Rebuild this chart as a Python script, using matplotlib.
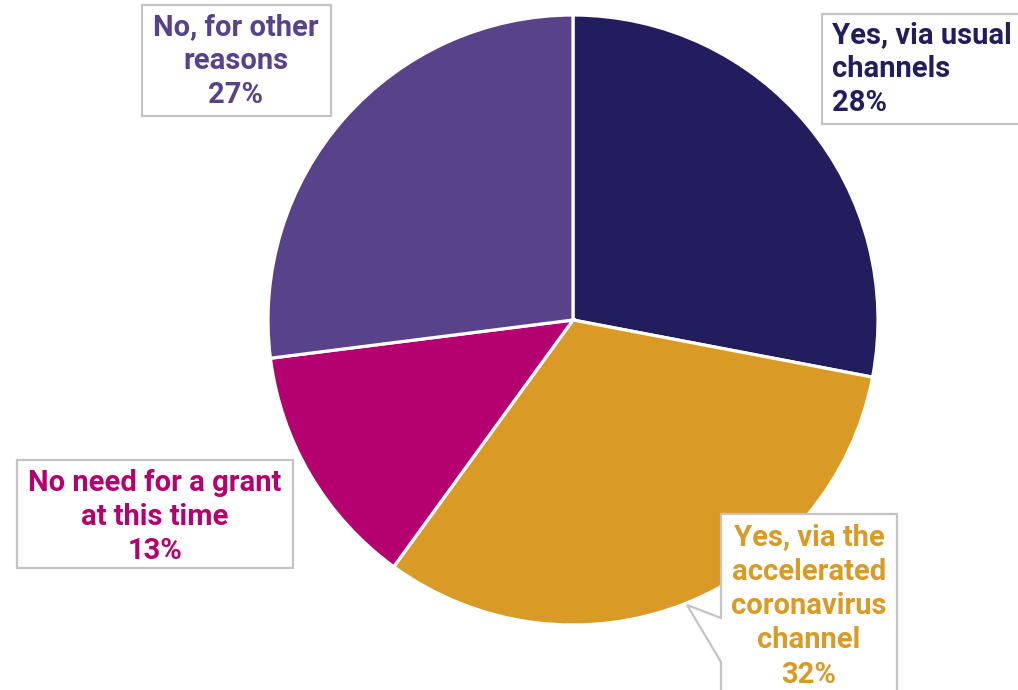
import matplotlib.pyplot as plt
from matplotlib.patches import Polygon
import numpy as np

plt.rcParams['font.family'] = ['Roboto', 'DejaVu Sans']

# data
labels = ['Yes, via usual\nchannels', 'Yes, via the\naccelerated\ncoronavirus\nchannel',
          'No need for a grant\nat this time', 'No, for other\nreasons']
values = [28, 32, 13, 27]
colors = ['#221E5E', '#D99A26', '#B5006F', '#58438A']

W, H = 1018, 690


def fy(y):
    # image y (top-down) -> data y
    return H - y


fig = plt.figure(figsize=(W / 100, H / 100), dpi=100)
ax = fig.add_axes([0, 0, 1, 1])
ax.set_xlim(0, W)
ax.set_ylim(0, H)
ax.set_aspect('equal')
ax.axis('off')

ax.pie(values, colors=colors, startangle=90, counterclock=False,
       center=(573, fy(320)), radius=305,
       wedgeprops=dict(edgecolor='white', linewidth=2.3))
ax.set_xlim(0, W)
ax.set_ylim(0, H)

box_col = '#C4C4C4'


def box(pts):
    p = Polygon([(x, fy(y)) for x, y in pts], closed=True, facecolor='white',
                edgecolor=box_col, linewidth=1.6, zorder=3, clip_on=True)
    ax.add_patch(p)


# label boxes (image pixel coords)
box([(142, 5), (331, 5), (331, 116), (142, 116)])
box([(822, 14), (1030, 14), (1030, 124), (822, 124)])
box([(17, 460), (293, 460), (293, 568), (17, 568)])
box([(721, 514), (897, 514), (897, 700), (721, 700), (721, 662), (687, 605), (721, 618)])

pos = [(832, 69, 'left'), (809, 606, 'center'), (155, 517, 'center'), (236, 61, 'center')]
for lab, v, c, (x, y, ha) in zip(labels, values, colors, pos):
    ax.text(x, fy(y), f'{lab}\n{v}%', color=c, fontsize=21, fontweight='bold',
            ha=ha, va='center', multialignment=ha, linespacing=1.29, zorder=4)

fig.savefig('out.png', dpi=100)
